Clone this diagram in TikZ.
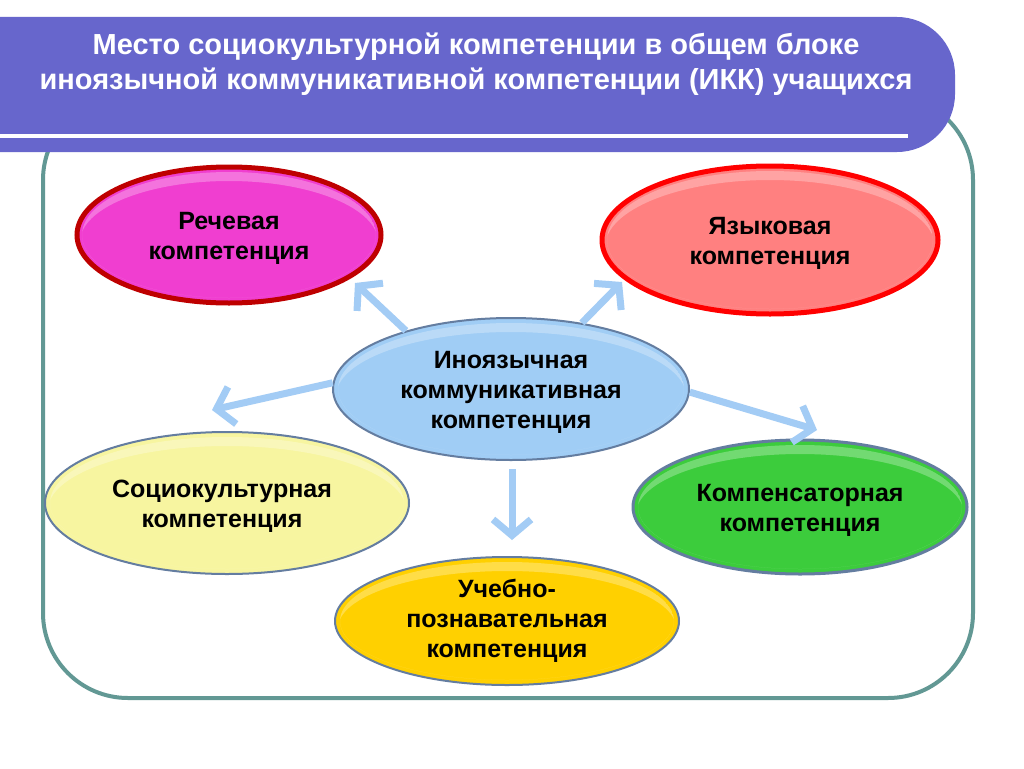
\documentclass[tikz,border=0pt]{standalone}
\usepackage{fontspec}
\setmainfont{Liberation Sans}
\usetikzlibrary{arrows.meta,shapes.geometric}
\definecolor{bannerc}{RGB}{103,102,204}
\definecolor{framec}{RGB}{98,152,148}
\definecolor{arrc}{RGB}{163,204,245}
\definecolor{magc}{RGB}{240,62,208}
\definecolor{magb}{RGB}{190,0,0}
\definecolor{salc}{RGB}{255,128,128}
\definecolor{salb}{RGB}{255,0,0}
\definecolor{bluec}{RGB}{160,205,245}
\definecolor{yelc}{RGB}{247,245,160}
\definecolor{grnc}{RGB}{60,204,60}
\definecolor{goldc}{RGB}{255,208,0}
\definecolor{edgec}{RGB}{100,125,160}
\tikzset{
  oval/.style={ellipse, inner sep=0pt, align=center, text=black,
    font=\bfseries\fontsize{25}{30}\selectfont},
  arr/.style={draw=arrc, line width=7pt,
    -{Straight Barb[length=16pt, width=38pt]}},
  titlestyle/.style={text=white, align=center,
    font=\bfseries\fontsize{29}{35}\selectfont},
  hilite/.style={white, opacity=0.28, even odd rule}
}
\newcommand\glosshi[3]{%
  \begin{scope}
    \clip (#1.center) ellipse [x radius=#2-5, y radius=#3-5];
    \fill[hilite] (#1.center) ellipse [x radius=#2-5, y radius=#3-5]
      ([yshift=-7pt]#1.center) ellipse [x radius=#2-3, y radius=#3-7];
  \end{scope}}
\begin{document}
\begin{tikzpicture}[x=1pt,y=-1pt]
\useasboundingbox (0,0) rectangle (1024,768);
\clip (0,0) rectangle (1024,768);
\fill[white] (0,0) rectangle (1024,768);
% frame
\draw[framec, line width=4pt, rounded corners=85pt] (43,95) rectangle (973,698);
% banner
\fill[bannerc, rounded corners=58pt] (-120,17) rectangle (955,152);
\draw[white, line width=4pt] (-5,136) -- (908,136);
\node[titlestyle] (title) at (476,64) {Место социокультурной компетенции в общем блоке\\иноязычной коммуникативной компетенции (ИКК) учащихся};
% ellipses
\node[oval, fill=magc, draw=magb, line width=5pt, minimum width=304pt, minimum height=136pt] (rech) at (229,235) {};
\glosshi{rech}{152}{68}
\node[oval] at ([yshift=-3pt]rech.center) {Речевая\\компетенция};
\node[oval, fill=salc, draw=salb, line width=5pt, minimum width=336pt, minimum height=148pt] (yaz) at (770,240) {};
\glosshi{yaz}{168}{74}
\node[oval] at ([yshift=-3pt]yaz.center) {Языковая\\компетенция};
\node[oval, fill=bluec, draw=edgec, line width=2pt, minimum width=356pt, minimum height=142pt] (ikk) at (511,389) {};
\glosshi{ikk}{178}{71}
\node[oval] at ([yshift=-3pt]ikk.center) {Иноязычная\\коммуникативная\\компетенция};
\node[oval, fill=yelc, draw=edgec, line width=2pt, minimum width=364pt, minimum height=142pt] (soc) at (227,503) {};
\glosshi{soc}{182}{71}
\node[oval] at ([xshift=-5pt,yshift=-3pt]soc.center) {Социокультурная\\компетенция};
\node[oval, fill=grnc, draw=edgec, line width=3pt, minimum width=334pt, minimum height=134pt] (komp) at (800,507) {};
\glosshi{komp}{167}{67}
\node[oval] at ([yshift=-3pt]komp.center) {Компенсаторная\\компетенция};
\node[oval, fill=goldc, draw=edgec, line width=2pt, minimum width=344pt, minimum height=128pt] (ucheb) at (507,621) {};
\glosshi{ucheb}{172}{64}
\node[oval] at (ucheb) {Учебно-\\познавательная\\компетенция};
% arrow tips
\coordinate (t1) at (355,283);
\coordinate (t2) at (622,282);
\coordinate (t3) at (212,410);
\coordinate (t4) at (817,430);
\coordinate (t5) at (512,540);
\draw[arr] (ikk.151) -- (t1);
\draw[arr] (ikk.43) -- (t2);
\draw[arr] (ikk.178.5) -- (t3);
\draw[arr] (ikk.-1) -- (t4);
\draw[arr, shorten <=8pt] (ikk.south) ++(1,0) -- (t5);
\end{tikzpicture}
\end{document}
